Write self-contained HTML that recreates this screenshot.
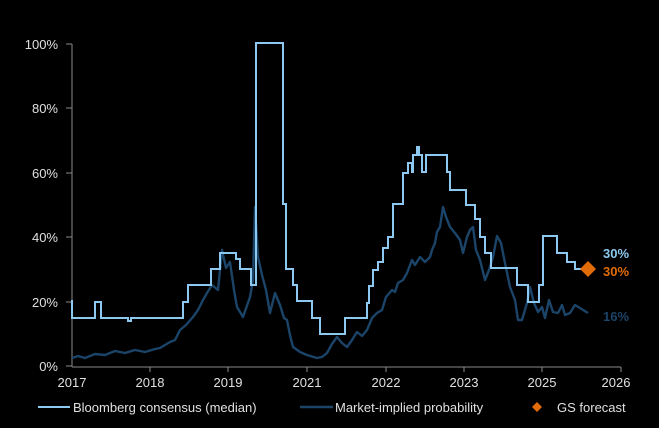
<!DOCTYPE html><html><head><style>body{margin:0;background:#000}svg{display:block}text{font-family:"Liberation Sans",Arial,sans-serif}</style></head><body>
<svg width="659" height="428" viewBox="0 0 659 428">
<rect width="659" height="428" fill="#000"/>
<g fill="#e0e0e0" font-size="13" text-anchor="end">
<text x="58" y="49">100%</text><text x="58" y="113">80%</text><text x="58" y="178">60%</text><text x="58" y="242">40%</text><text x="58" y="307">20%</text><text x="58" y="371">0%</text>
</g>
<g stroke="#8a8a8a" stroke-width="1">
<line x1="72" y1="44" x2="72" y2="367"/><line x1="72" y1="367" x2="621" y2="367"/>
<line x1="66" y1="44" x2="72" y2="44"/><line x1="66" y1="108" x2="72" y2="108"/><line x1="66" y1="173" x2="72" y2="173"/><line x1="66" y1="237" x2="72" y2="237"/><line x1="66" y1="302" x2="72" y2="302"/><line x1="66" y1="366" x2="72" y2="366"/>
<line x1="150" y1="367" x2="150" y2="372"/><line x1="228" y1="367" x2="228" y2="372"/><line x1="307" y1="367" x2="307" y2="372"/><line x1="386" y1="367" x2="386" y2="372"/><line x1="464" y1="367" x2="464" y2="372"/><line x1="542" y1="367" x2="542" y2="372"/><line x1="621" y1="367" x2="621" y2="372"/>
</g>
<g fill="#e0e0e0" font-size="13" text-anchor="middle">
<text x="72" y="387">2017</text><text x="150" y="387">2018</text><text x="228" y="387">2019</text><text x="307" y="387">2021</text><text x="386" y="387">2022</text><text x="464" y="387">2023</text><text x="542" y="387">2025</text><text x="616" y="387">2026</text>
</g>
<polyline fill="none" stroke="#1b4468" stroke-width="2.4" stroke-linejoin="round" points="72,358 78,356 85,358 95,354 105,355 115,351 125,353 135,350 145,352 155,349 160,348 165,345 170,342 175,340 180,330 186,325 193,317 198,310 203,300 207,293 212,285 218,290 222,250 226,268 230,262 234,290 237,307 243,317 250,297 253,280 255,207 258,257 262,275 266,290 270,313 275,293 280,305 284,318 287,320 290,335 293,347 300,352 307,355 317,358 322,357 327,353 332,344 337,337 342,343 347,347 352,340 357,332 362,336 367,330 372,318 377,313 382,310 386,297 392,290 395,292 398,283 403,280 407,273 412,260 415,265 420,257 425,262 430,257 432,250 435,243 437,232 440,227 443,207 446,217 450,227 455,233 460,240 463,253 467,237 470,230 473,227 476,250 480,260 485,280 489,270 493,257 497,236 501,243 505,263 510,287 515,300 518,320 522,320 527,303 530,287 534,303 538,312 542,307 545,318 549,300 553,312 558,313 562,305 565,315 570,313 575,305 588,313"/>
<polyline fill="none" stroke="#8dc8f0" stroke-width="2" stroke-linejoin="miter" points="72,300 72,318 95,318 95,302 101,302 101,318 128,318 128,321 131,321 131,318 183,318 183,302 188,302 188,285 211,285 211,269 220,269 220,253 236,253 236,259 240,259 240,269 251,269 251,285 256,285 256,43 283,43 283,204 286,204 286,269 293,269 293,285 297,285 297,301 312,301 312,318 320,318 320,334 345,334 345,318 367,318 367,303 369,303 369,286 373,286 373,270 378,270 378,262 383,262 383,248 388,248 388,237 393,237 393,204 403,204 403,173 408,173 408,163 412,163 412,172 413,172 413,155 417,155 417,147 419,147 419,155 422,155 422,172 426,172 426,155 447,155 447,172 450,172 450,190 466,190 466,205 475,205 475,219 480,219 480,237 485,237 485,253 491,253 491,268 517,268 517,285 528,285 528,302 539,302 539,285 543,285 543,236 557,236 557,253 567,253 567,262 575,262 575,269 588,269"/>
<polygon points="588,261 596,269 588,277 580,269" fill="#e36c0a"/>
<text x="603" y="258" fill="#8dc8f0" font-size="13" font-weight="bold">30%</text>
<text x="603" y="276" fill="#e36c0a" font-size="13" font-weight="bold">30%</text>
<text x="603" y="321" fill="#1b4468" font-size="13" font-weight="bold">16%</text>
<g font-size="13" fill="#e0e0e0">
<line x1="38" y1="407" x2="70" y2="407" stroke="#8dc8f0" stroke-width="2"/><text x="73" y="412">Bloomberg consensus (median)</text>
<line x1="300" y1="407" x2="333" y2="407" stroke="#1b4468" stroke-width="2.4"/><text x="335" y="412">Market-implied probability</text>
<polygon points="537,402 542,407 537,412 532,407" fill="#e36c0a"/><text x="557" y="412">GS forecast</text>
</g>
</svg></body></html>
